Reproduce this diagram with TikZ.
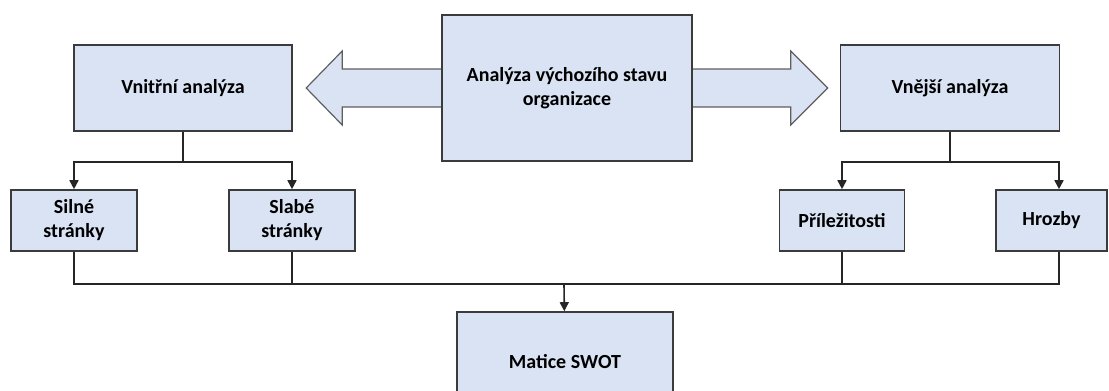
\documentclass[tikz,border=0pt]{standalone}
\usepackage{fontspec}
\setmainfont{Carlito}
\usetikzlibrary{positioning, arrows.meta, calc, backgrounds}

\definecolor{boxfill}{HTML}{DAE3F3}
\definecolor{boxline}{HTML}{3B3B3B}
\definecolor{arrline}{HTML}{5F5F5F}

\begin{document}
\begin{tikzpicture}[x=1pt, y=-1pt, thick,
  main/.style = {draw=boxline, fill=boxfill, line width=1.6pt, align=center, inner sep=0pt, font=\fontsize{20}{24}\selectfont\bfseries},
  link/.style = {draw=black!85, line width=1.6pt},
  tip/.style = {link, -{Triangle[width=9pt,length=9pt]}},
  bigarrow/.style = {draw=arrline, fill=boxfill, line width=1.2pt, line join=miter}]
\useasboundingbox (0,0) rectangle (1109,391);
\clip (0,0) rectangle (1109,391);
            \node[main, minimum width=250pt, minimum height=146pt] (org) at (567,88) {Analýza výchozího stavu\\organizace};
            \node[main, minimum width=218pt, minimum height=86pt] (inner) at (183,88) {Vnitřní analýza};
            \node[main, minimum width=219pt, minimum height=86pt] (outer) at (950,88) {Vnější analýza};
            \node[main, minimum width=126pt, minimum height=61pt] (silne) at (74,220.5) {Silné\\stránky};
            \node[main, minimum width=126pt, minimum height=61pt] (slabe) at (292,220.5) {Slabé\\stránky};
            \node[main, minimum width=125pt, minimum height=61pt] (prilez) at (842,220.5) {Příležitosti};
            \node[main, minimum width=111pt, minimum height=61pt] (hrozby) at (1051.5,220.5) {Hrozby};
            \node[main, minimum width=216pt, minimum height=100pt] (matice) at (565,362) {Matice SWOT};
            \begin{scope}[on background layer]
            \draw[bigarrow] ([yshift=19pt]org.west) -- ++(-99,0) -- ++(0,-18) -- ++(-36,37) -- ++(36,37) -- ++(0,-18) -- ([yshift=-19pt]org.west);
            \draw[bigarrow] ([yshift=19pt]org.east) -- ++(98,0) -- ++(0,-18) -- ++(37,37) -- ++(-37,37) -- ++(0,-18) -- ([yshift=-19pt]org.east);
            \end{scope}
            \coordinate (isplit) at ($(inner.south)+(0,30)$);
            \coordinate (osplit) at ($(outer.south)+(0,30)$);
            \coordinate (hin) at ($(hrozby.north)+(7.5,0)$);
            \coordinate (hout) at ($(hrozby.south)+(7.5,0)$);
            \coordinate (merge) at ($(matice.north)+(-1,-27)$);
            \draw[link] (inner) -- (isplit);
            \draw[tip] (isplit) -| (silne);
            \draw[tip] (isplit) -| (slabe);
            \draw[link] (outer) -- (osplit);
            \draw[tip] (osplit) -| (prilez);
            \draw[tip] (osplit) -| (hin);
            \draw[link] (silne) |- (merge);
            \draw[link] (slabe) |- (merge);
            \draw[link] (prilez) |- (merge);
            \draw[link] (hout) |- (merge);
            \draw[tip] (merge) -- (matice);
        \end{tikzpicture}
\end{document}
